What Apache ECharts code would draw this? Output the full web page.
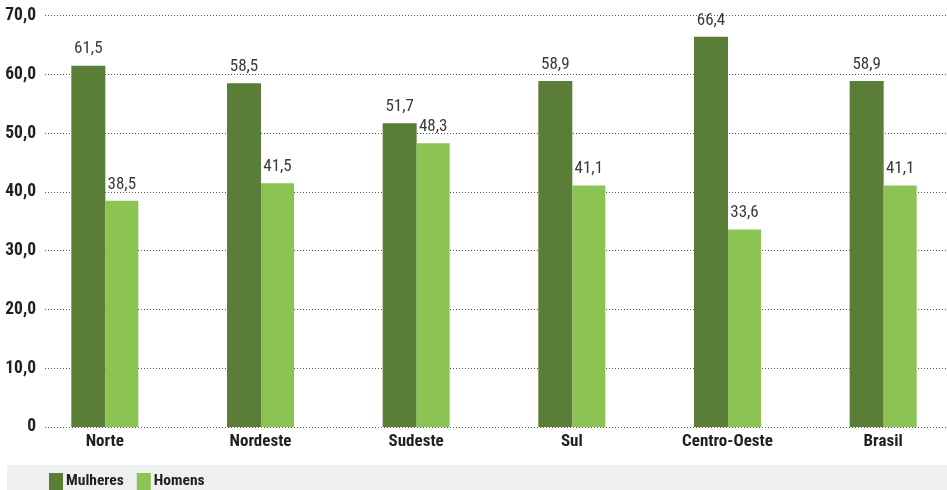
<!DOCTYPE html>
<html><head><meta charset="utf-8">
<script src="https://cdn.jsdelivr.net/npm/echarts@6/dist/echarts.min.js"></script>
<style>html,body{margin:0;padding:0;background:#fff}#c{width:947px;height:490px}</style>
</head><body><div id="c"></div>
<script>
var categories = ['Norte','Nordeste','Sudeste','Sul','Centro-Oeste','Brasil'];
var mulheres = [61.5, 58.5, 51.7, 58.9, 66.4, 58.9];
var homens = [38.5, 41.5, 48.3, 41.1, 33.6, 41.1];
var seriesNames = ['Mulheres','Homens'];
var yMin = 0, yMax = 70, yStep = 10;

var FONT = '"Roboto Condensed","Open Sans Condensed",sans-serif';
function fmt(v){ return v === 0 ? '0' : v.toFixed(1).replace('.', ','); }

var chart = echarts.init(document.getElementById('c'), null, {renderer:'canvas'});
chart.setOption({
  animation:false,
  backgroundColor:'#fff',
  graphic:[{type:'rect', left:7, top:465, shape:{width:940, height:25}, style:{fill:'#eff1f0'}, z:-1}],
  grid:[
    {left:45, right:0, top:15.7, bottom:63, outerBoundsMode:'none', containLabel:false},
    {left:27, right:-14, top:15.7, bottom:63, outerBoundsMode:'none', containLabel:false}
  ],
  legend:{
    data:seriesNames, left:49, top:473, icon:'rect', itemWidth:14, itemHeight:17, itemGap:13,
    textStyle:{fontFamily:FONT, fontWeight:'bold', fontSize:15.5, color:'#231f20', padding:[0,0,0,-2]},
    padding:0
  },
  xAxis:[
    {type:'category', gridIndex:0, data:categories, show:false},
    {type:'category', gridIndex:1, data:categories,
     axisLine:{show:false}, axisTick:{show:false},
     axisLabel:{interval:0, fontFamily:FONT, fontWeight:'bold', fontSize:17, color:'#231f20', margin:6}}
  ],
  yAxis:[
    {type:'value', gridIndex:0, min:yMin, max:yMax, interval:yStep,
     axisLine:{show:false}, axisTick:{show:false},
     axisLabel:{formatter:fmt, fontFamily:FONT, fontWeight:'bold', fontSize:17.5, color:'#231f20', margin:9},
     splitLine:{show:true, lineStyle:{color:'#555', width:1, type:[1,2]}}},
    {type:'value', gridIndex:1, min:yMin, max:yMax, interval:yStep, show:false}
  ],
  series:[
    {name:seriesNames[0], type:'bar', xAxisIndex:1, yAxisIndex:1, data:mulheres, barWidth:34, barGap:'0%',
     itemStyle:{color:'#5a7d37'},
     label:{show:true, position:'top', distance:8, formatter:function(p){return fmt(p.value);},
            fontFamily:FONT, fontSize:17, color:'#3a3a3a'}},
    {name:seriesNames[1], type:'bar', xAxisIndex:1, yAxisIndex:1, data:homens, barWidth:33, barGap:'0%',
     itemStyle:{color:'#8bc452'},
     label:{show:true, position:'top', distance:8, formatter:function(p){return fmt(p.value);},
            fontFamily:FONT, fontSize:17, color:'#3a3a3a'}}
  ]
});
</script></body></html>
